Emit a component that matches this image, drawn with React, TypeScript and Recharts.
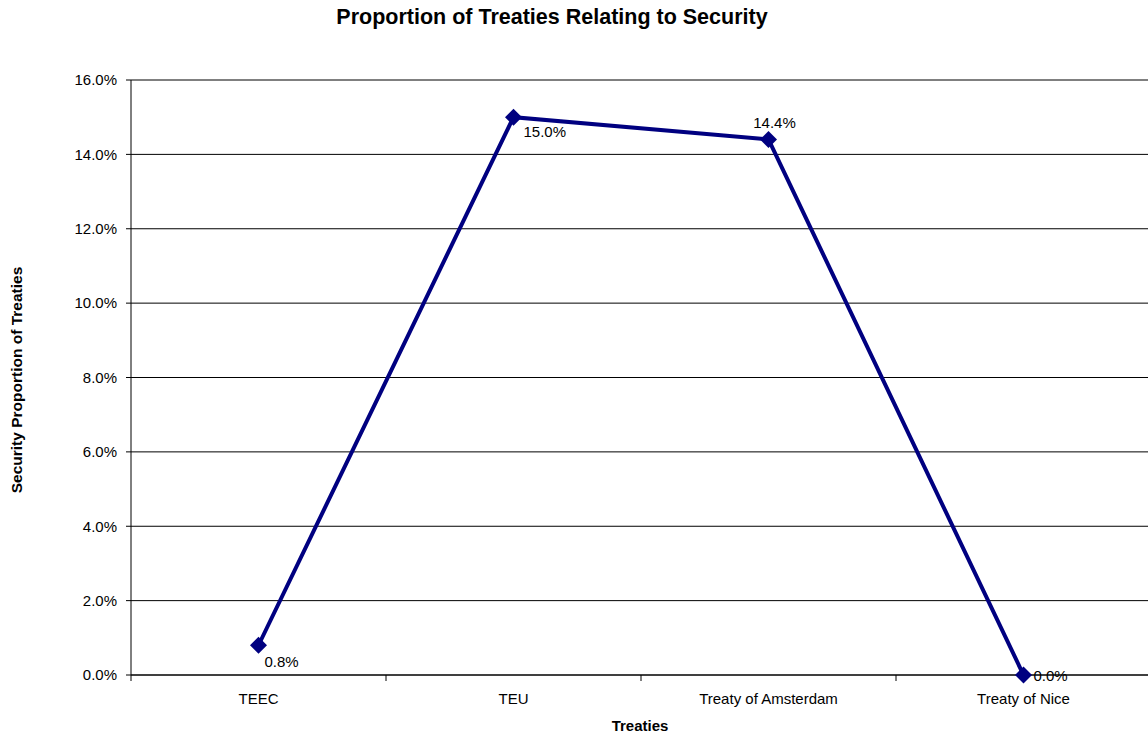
import React from "react";
import {
  LineChart,
  Line,
  XAxis,
  YAxis,
  CartesianGrid,
  LabelList,
} from "recharts";

const TREATIES = ["TEEC", "TEU", "Treaty of Amsterdam", "Treaty of Nice"];
const SECURITY_SHARE = [0.8, 15.0, 14.4, 0.0];
const PERCENT_TICKS = [0, 2, 4, 6, 8, 10, 12, 14, 16];
// where each value label sits relative to its marker
const LABEL_SPOTS = ["belowRight", "belowRight", "above", "right"];

const FONT = "'Liberation Sans', Arial, sans-serif";
const NAVY = "#000080";

const CHART_W = 1160;
const CHART_H = 738;
const MARGIN = { top: 80, right: 9, left: 0, bottom: 33 };
const Y_AXIS_W = 131;
const X_AXIS_H = 30;
const PLOT_W = CHART_W - MARGIN.left - MARGIN.right - Y_AXIS_W;
const BAND = PLOT_W / TREATIES.length;
const X_TICK_GAP = 18;

const data = TREATIES.map((name, i) => ({ name, share: SECURITY_SHARE[i] }));

function Diamond(props: any) {
  const { cx, cy } = props;
  if (cx == null || cy == null) return null;
  const r = 8.5;
  return (
    <polygon
      points={`${cx},${cy - r} ${cx + r},${cy} ${cx},${cy + r} ${cx - r},${cy}`}
      fill={NAVY}
      stroke="none"
    />
  );
}

function CategoryTick(props: any) {
  const { x, y, payload, index } = props;
  const axisY = y - X_TICK_GAP;
  const left = x - BAND / 2;
  return (
    <g>
      <line x1={left} y1={axisY} x2={left} y2={axisY + 6} stroke="#000" />
      {index === TREATIES.length - 1 && (
        <line x1={x + BAND / 2} y1={axisY} x2={x + BAND / 2} y2={axisY + 6} stroke="#000" />
      )}
      <text
        x={x}
        y={y}
        dy="0.71em"
        textAnchor="middle"
        fontSize={15}
        fontFamily={FONT}
        fill="#000"
      >
        {payload.value}
      </text>
    </g>
  );
}

function ValueLabel(props: any) {
  const { x, y, value, index } = props;
  const spot = LABEL_SPOTS[index];
  let tx = x + 6;
  let ty = y + 22;
  let anchor: "start" | "middle" = "start";
  if (spot === "belowRight" && index === 1) {
    tx = x + 10;
    ty = y + 20;
  } else if (spot === "above") {
    tx = x + 6;
    ty = y - 12;
    anchor = "middle";
  } else if (spot === "right") {
    tx = x + 10;
    ty = y + 6;
  }
  return (
    <text
      x={tx}
      y={ty}
      textAnchor={anchor}
      fontSize={15}
      fontFamily={FONT}
      fill="#000"
    >
      {Number(value).toFixed(1)}%
    </text>
  );
}

export default function App() {
  return (
    <div
      style={{
        position: "absolute",
        left: 0,
        top: 0,
        width: 1148,
        height: 738,
        overflow: "hidden",
        background: "#fff",
        fontFamily: FONT,
      }}
    >
      <div
        style={{
          position: "absolute",
          left: 0,
          top: 5,
          width: 1104,
          textAlign: "center",
          fontSize: 21.5,
          fontWeight: "bold",
          color: "#000",
        }}
      >
        Proportion of Treaties Relating to Security
      </div>

      <LineChart width={CHART_W} height={CHART_H} data={data} margin={MARGIN}>
        <CartesianGrid vertical={false} stroke="#000" />
        <XAxis
          dataKey="name"
          scale="band"
          height={X_AXIS_H}
          interval={0}
          axisLine={{ stroke: "#000" }}
          tickLine={false}
          tickSize={0}
          tickMargin={X_TICK_GAP}
          tick={(p: any) => <CategoryTick {...p} />}
        />
        <YAxis
          width={Y_AXIS_W}
          domain={[0, 16]}
          ticks={PERCENT_TICKS}
          interval={0}
          tickFormatter={(v: number) => `${v.toFixed(1)}%`}
          axisLine={{ stroke: "#000" }}
          tickLine={{ stroke: "#000" }}
          tickSize={5}
          tickMargin={9}
          tick={{ fontSize: 15, fill: "#000", fontFamily: FONT }}
        />
        <Line
          type="linear"
          dataKey="share"
          stroke={NAVY}
          strokeWidth={4}
          dot={<Diamond />}
          activeDot={false}
          isAnimationActive={false}
        >
          <LabelList dataKey="share" content={(p: any) => <ValueLabel {...p} />} />
        </Line>
      </LineChart>

      <div
        style={{
          position: "absolute",
          left: 17,
          top: 380,
          transform: "translate(-50%, -50%) rotate(-90deg)",
          whiteSpace: "nowrap",
          fontSize: 15.5,
          fontWeight: "bold",
          color: "#000",
        }}
      >
        Security Proportion of Treaties
      </div>
      <div
        style={{
          position: "absolute",
          left: 540,
          top: 717,
          width: 200,
          textAlign: "center",
          fontSize: 15,
          fontWeight: "bold",
          color: "#000",
        }}
      >
        Treaties
      </div>
    </div>
  );
}
